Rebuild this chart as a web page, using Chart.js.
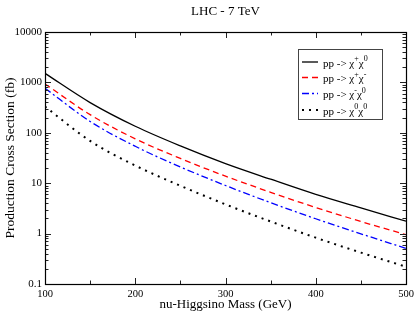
<!DOCTYPE html>
<html>
<head>
<meta charset="utf-8">
<script src="https://cdn.jsdelivr.net/npm/chart.js@4/dist/chart.umd.min.js"></script>
<style>
  html, body { margin: 0; padding: 0; background: #fff; }
  #wrap { width: 415px; height: 312px; }
</style>
</head>
<body>
<div id="wrap"><canvas id="c" width="415" height="312"></canvas></div>
<script>
// ---- data ----
const masses = [100, 150, 200, 250, 300, 350, 400, 450, 500];
const xsecCharged0 = [1510, 398, 135, 55, 24.5, 12, 6.0, 3.24, 1.76];   // pp -> χ+χ0
const xsecChargedPair = [933, 229, 76, 31, 13.8, 6.6, 3.3, 1.74, 0.95]; // pp -> χ+χ-
const xsecMinus0 = [767, 168, 54, 21, 9.0, 4.1, 1.97, 0.99, 0.51];      // pp -> χ-χ0
const xsecNeutral = [331, 69, 22.4, 8.9, 3.8, 1.74, 0.83, 0.42, 0.22];  // pp -> χ0χ0
const seriesLabels = ['pp -> χ⁺χ⁰', 'pp -> χ⁺χ⁻', 'pp -> χ⁻χ⁰', 'pp -> χ⁰χ⁰'];
const yTickValues = [0.1, 1, 10, 100, 1000, 10000];
const yTickLabels = ['0.1', '1', '10', '100', '1000', '10000'];
const xTickValues = [100, 200, 300, 400, 500];
const xMinorValues = [150, 250, 350, 450];
const chartTitle = 'LHC - 7 TeV';
const xTitle = 'nu-Higgsino Mass (GeV)';
const yTitle = 'Production Cross Section (fb)';

const SERIF = '"Liberation Serif", "DejaVu Serif", serif';
const SUPS = {'⁺': '+', '⁻': '-', '⁰': '0'};

function toPts(vals) { return masses.map((m, i) => ({x: m, y: vals[i]})); }

const datasets = [
  {label: seriesLabels[0], data: toPts(xsecCharged0), borderColor: '#000000', borderWidth: 1.3, borderDash: []},
  {label: seriesLabels[1], data: toPts(xsecChargedPair), borderColor: '#ff0000', borderWidth: 1.3, borderDash: [6, 4]},
  {label: seriesLabels[2], data: toPts(xsecMinus0), borderColor: '#0000ff', borderWidth: 1.3, borderDash: [7, 3, 2, 3]},
  {label: seriesLabels[3], data: toPts(xsecNeutral), borderColor: '#000000', borderWidth: 2, borderDash: [2, 5]}
].map(d => Object.assign(d, {pointRadius: 0, fill: false, cubicInterpolationMode: 'monotone'}));

function drawRichLabel(ctx, text, x, y) {
  // draws text, rendering unicode superscript signs as small raised glyphs
  let cx = x;
  for (const ch of text) {
    if (SUPS[ch] !== undefined) {
      ctx.font = '8px ' + SERIF;
      ctx.fillText(SUPS[ch], cx, y - 5);
      cx += ctx.measureText(SUPS[ch]).width;
    } else {
      ctx.font = '11px ' + SERIF;
      ctx.fillText(ch, cx, y);
      cx += ctx.measureText(ch).width;
    }
  }
}

const framePlugin = {
  id: 'frame',
  afterDraw(chart) {
    const {ctx, chartArea: a, scales: {x, y}} = chart;
    ctx.save();
    ctx.strokeStyle = '#222';
    ctx.lineWidth = 1;
    ctx.beginPath();
    const major = 6, minor = 3.5;
    xTickValues.forEach(v => {
      const px = Math.round(x.getPixelForValue(v)) + 0.5;
      ctx.moveTo(px, a.bottom); ctx.lineTo(px, a.bottom - major);
      ctx.moveTo(px, a.top); ctx.lineTo(px, a.top + major);
    });
    xMinorValues.forEach(v => {
      const px = Math.round(x.getPixelForValue(v)) + 0.5;
      ctx.moveTo(px, a.bottom); ctx.lineTo(px, a.bottom - minor);
      ctx.moveTo(px, a.top); ctx.lineTo(px, a.top + minor);
    });
    yTickValues.forEach((v, i) => {
      const py = Math.round(y.getPixelForValue(v)) + 0.5;
      ctx.moveTo(a.left, py); ctx.lineTo(a.left + major, py);
      ctx.moveTo(a.right, py); ctx.lineTo(a.right - major, py);
      if (i < yTickValues.length - 1) {
        for (let k = 2; k <= 9; k++) {
          const pm = Math.round(y.getPixelForValue(v * k)) + 0.5;
          ctx.moveTo(a.left, pm); ctx.lineTo(a.left + minor, pm);
          ctx.moveTo(a.right, pm); ctx.lineTo(a.right - minor, pm);
        }
      }
    });
    ctx.stroke();
    ctx.lineWidth = 1.2;
    ctx.strokeStyle = '#000';
    ctx.strokeRect(Math.round(a.left) + 0.5, Math.round(a.top) + 0.5,
                   Math.round(a.right - a.left), Math.round(a.bottom - a.top));

    // legend
    const bx = Math.round(a.right) - 108, by = Math.round(a.top) + 17, bw = 84, bh = 70;
    ctx.fillStyle = '#fff';
    ctx.fillRect(bx, by, bw, bh);
    ctx.lineWidth = 1;
    ctx.strokeStyle = '#444';
    ctx.strokeRect(bx + 0.5, by + 0.5, bw, bh);
    const rows = [13, 28.5, 44.5, 61];
    chart.data.datasets.forEach((ds, i) => {
      const ry = by + rows[i];
      ctx.save();
      ctx.strokeStyle = ds.borderColor;
      ctx.lineWidth = ds.borderWidth;
      ctx.setLineDash(ds.borderDash);
      ctx.beginPath();
      ctx.moveTo(bx + 4, ry); ctx.lineTo(bx + 20, ry);
      ctx.stroke();
      ctx.restore();
      ctx.fillStyle = '#000';
      ctx.textBaseline = 'middle';
      ctx.textAlign = 'left';
      drawRichLabel(ctx, ds.label, bx + 25, ry + 2);
    });
    ctx.restore();
  }
};

new Chart(document.getElementById('c'), {
  type: 'line',
  data: {datasets},
  plugins: [framePlugin],
  options: {
    responsive: false,
    animation: false,
    devicePixelRatio: 1,
    layout: {padding: {left: 0, right: 9, top: 0, bottom: 0}},
    plugins: {
      legend: {display: false},
      tooltip: {enabled: false},
      title: {
        display: true, text: chartTitle, color: '#000', fullSize: false,
        font: {family: SERIF, size: 13, weight: 'normal'},
        padding: {top: 4, bottom: 12.4}
      }
    },
    scales: {
      x: {
        type: 'linear', min: 100, max: 500,
        grid: {display: false, drawTicks: false},
        border: {display: false},
        afterBuildTicks(s) { s.ticks = xTickValues.map(v => ({value: v})); },
        afterFit(s) { s.height = 28; s.paddingRight = 0; s.paddingLeft = 0; },
        ticks: {color: '#000', padding: 4, maxRotation: 0, font: {family: SERIF, size: 10.5},
                callback: v => String(v)},
        title: {display: true, text: xTitle, color: '#000', font: {family: SERIF, size: 13},
                padding: {top: 0, bottom: 0}}
      },
      y: {
        type: 'logarithmic', min: 0.1, max: 10000,
        grid: {display: false, drawTicks: false},
        border: {display: false},
        afterBuildTicks(s) { s.ticks = yTickValues.map(v => ({value: v})); },
        afterFit(s) { s.width = 45; },
        ticks: {color: '#000', padding: 3, font: {family: SERIF, size: 11},
                callback: (v) => yTickLabels[yTickValues.indexOf(v)] ?? ''},
        title: {display: true, text: yTitle, color: '#000', font: {family: SERIF, size: 13.5},
                padding: {top: 2, bottom: 0}}
      }
    }
  }
});
</script>
</body>
</html>
